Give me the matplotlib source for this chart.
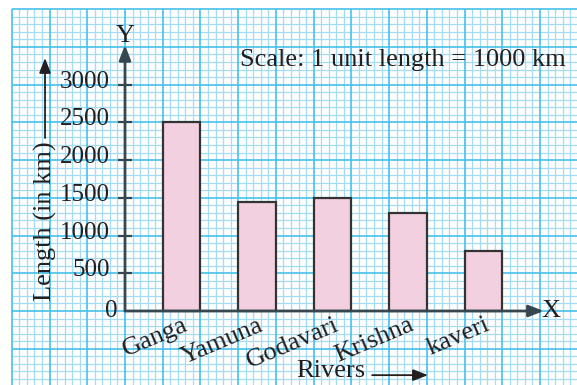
import numpy as np
import matplotlib.pyplot as plt

rivers = ['Ganga', 'Yamuna', 'Godavari', 'Krishna', 'kaveri']
lengths = [2500, 1450, 1500, 1300, 800]
yticks = [500, 1000, 1500, 2000, 2500, 3000]

plt.rcParams['font.family'] = ['Liberation Serif', 'DejaVu Serif']

# one big square of the graph paper = 37.73 px
sq = 37.73
fig = plt.figure(figsize=(5.77, 3.85), dpi=100)
ax = fig.add_axes([0, 0, 1, 1])
ax.set_xlim(-125 / sq, (577 - 125) / sq)
ax.set_ylim(-(385 - 311) / sq * 500, 311 / sq * 500)
ax.axis('off')

# graph paper
minor_c = '#a6dcf3'
major_c = '#45c1ec'
gx0, gx1 = -3, 12.5
gy0, gy1 = -1000, 4000
for xv in np.arange(gx0, gx1 + 0.01, 0.2):
    major = abs(xv - round(xv)) < 1e-6
    ax.vlines(xv, gy0, gy1, color=major_c if major else minor_c,
              lw=1.2 if major else 0.9, zorder=1 if major else 0)
for yv in np.arange(gy0, gy1 + 1, 100):
    major = yv % 500 == 0
    ax.hlines(yv, gx0, gx1, color=major_c if major else minor_c,
              lw=1.2 if major else 0.9, zorder=1 if major else 0)

# bars
xpos = np.arange(len(rivers)) * 2 + 1.5
ax.bar(xpos, lengths, width=1.0, color='#f2d0e0', edgecolor='#333333',
       linewidth=1.6, zorder=3)

axis_c = '#37474f'
txt_c = '#231f20'
arr = dict(arrowstyle='-|>,head_length=0.9,head_width=0.35', color=axis_c,
           lw=2, shrinkA=0, shrinkB=0, mutation_scale=10)
ax.annotate('', xy=(0, 3525), xytext=(0, 0), arrowprops=arr, zorder=4)
ax.annotate('', xy=(11.1, 0), xytext=(0, 0), arrowprops=arr, zorder=4)
ax.text(0, 3640, 'Y', fontsize=19, ha='center', va='center', color=txt_c)
ax.text(11.3, 0, 'X', fontsize=19, ha='center', va='center', color=txt_c)

# y ticks
ax.hlines(yticks, -0.19, 0.19, color=axis_c, lw=1.6, zorder=4)
for t in yticks:
    ax.text(-0.4, t + 40, str(t), fontsize=18, ha='right', va='center',
            color=txt_c)
ax.text(-0.19, 0, '0', fontsize=18, ha='right', va='center', color=txt_c)

# river names
for xp, name in zip(xpos, rivers):
    ax.text(xp + 0.02, -40, name, fontsize=19, rotation=23, ha='right',
            va='top', rotation_mode='anchor', color=txt_c)

# axis titles
ax.text(-2.12, 1193, 'Length (in km)', fontsize=19, rotation=90,
        ha='center', va='center', color=txt_c)
ax.annotate('', xy=(-2.12, 3353), xytext=(-2.12, 2293),
            arrowprops=dict(arrowstyle='-|>,head_length=0.9,head_width=0.35',
                            color=txt_c, lw=1.3, shrinkA=0, shrinkB=0,
                            mutation_scale=10))
ax.text(5.46, -800, 'Rivers', fontsize=19, ha='center', va='center',
        color=txt_c)
ax.annotate('', xy=(8.03, -850), xytext=(6.55, -850),
            arrowprops=dict(arrowstyle='-|>,head_length=0.9,head_width=0.35',
                            color=txt_c, lw=1.3, shrinkA=0, shrinkB=0,
                            mutation_scale=10))

ax.text(3.05, 3326, 'Scale: 1 unit length = 1000 km', fontsize=19,
        ha='left', va='center', color=txt_c)

plt.savefig('out.png', dpi=100)
